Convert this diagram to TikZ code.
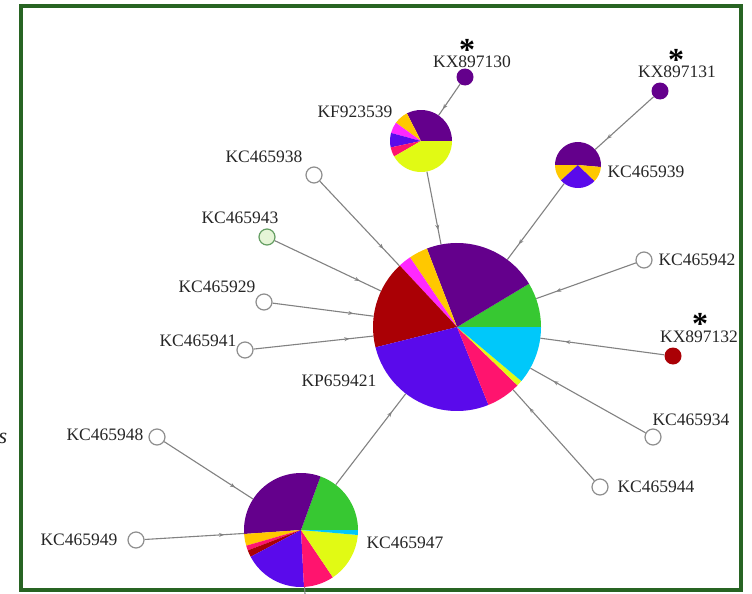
\documentclass[tikz,border=0pt]{standalone}
\usepackage{fontspec}
\setmainfont{Liberation Serif}
\usetikzlibrary{decorations.markings,arrows.meta}
\definecolor{hpurple}{RGB}{100,0,140}
\definecolor{hgreen}{RGB}{55,200,50}
\definecolor{hcyan}{RGB}{0,200,250}
\definecolor{hlime}{RGB}{225,250,20}
\definecolor{hpink}{RGB}{255,20,110}
\definecolor{hblue}{RGB}{90,10,235}
\definecolor{hred}{RGB}{170,0,5}
\definecolor{hmag}{RGB}{255,40,255}
\definecolor{hyellow}{RGB}{255,200,0}
\definecolor{framegreen}{RGB}{40,100,35}
\definecolor{linkgray}{RGB}{130,130,130}
\definecolor{lightleaf}{RGB}{230,245,215}
\newcommand\pieslice[5]{\fill[#5] (#1) -- ++(#3:#2) arc[start angle=#3, end angle=#4, radius=#2] -- cycle;}
\newcommand\bigast{\raisebox{-9pt}[14pt][0pt]{*}}
\begin{document}
\begin{tikzpicture}[x=1pt,y=-1pt,
  link/.style={draw=linkgray, line width=1.1pt, postaction={decorate},
    decoration={markings, mark=at position 0.8 with {\arrow{Stealth[length=5pt,width=4pt]}}}},
  leaf/.style={circle, draw=linkgray!90, fill=white, line width=1.2pt, minimum size=16pt, inner sep=0pt},
  dot/.style={circle, draw=none, minimum size=17pt, inner sep=0pt},
  pienode/.style={circle, draw=none, inner sep=0pt},
  lbl/.style={font=\fontsize{17.5}{20}\selectfont, text=black!85, inner sep=0pt},
  star/.style={font=\fontsize{32}{32}\selectfont\bfseries, inner sep=0pt, anchor=center}]
\useasboundingbox (0,0) rectangle (752,594);
\fill[white] (0,0) rectangle (752,594);
\draw[line width=4pt, framegreen] (21,6.5) rectangle (741,590);
\node[lbl, font=\fontsize{22}{22}\selectfont\itshape] (sleft) at (3,438) {s};
% pie nodes
\node[pienode, minimum size=168pt] (mp) at (457,327) {};
\node[pienode, minimum size=114pt] (bp) at (301,530) {};
\node[pienode, minimum size=62pt] (kf) at (421,141) {};
\node[pienode, minimum size=46pt] (k39) at (578,165) {};
% small coloured nodes
\node[dot, fill=hpurple] (kx130) at (465,77) {};
\node[dot, fill=hpurple] (kx131) at (660,91) {};
\node[dot, fill=hred] (kx132) at (673,356) {};
% leaves
\node[leaf] (k42) at (644,260) {};
\node[leaf] (k34) at (653,437) {};
\node[leaf] (k44) at (600,487) {};
\node[leaf] (k38) at (314,175) {};
\node[leaf, fill=lightleaf, draw=hgreen!40!linkgray] (k43) at (267,237) {};
\node[leaf] (k29) at (264,302) {};
\node[leaf] (k41) at (245,350) {};
\node[leaf] (k48) at (157,437) {};
\node[leaf] (k49) at (136,540) {};
\coordinate (botend) at (305,594);
% edges
\draw[link] (kx130) -- (kf);
\draw[link] (kf) -- (mp);
\draw[link] (kx131) -- (k39);
\draw[link] (k39) -- (mp);
\draw[link] (k38) -- (mp);
\draw[link] (k43) -- (mp);
\draw[link] (k29) -- (mp);
\draw[link] (k41) -- (mp);
\draw[link] (k42) -- (mp);
\draw[link] (kx132) -- (mp);
\draw[link] (k34) -- (mp);
\draw[link] (k44) -- (mp);
\draw[link] (bp) -- (mp);
\draw[link] (k48) -- (bp);
\draw[link] (k49) -- (bp);
\draw[draw=linkgray, line width=1.1pt] (bp) -- (botend);
% main pie
\pieslice{mp.center}{84pt}{0}{31}{hgreen}
\pieslice{mp.center}{84pt}{31}{111}{hpurple}
\pieslice{mp.center}{84pt}{111}{124}{hyellow}
\pieslice{mp.center}{84pt}{124}{133}{hmag}
\pieslice{mp.center}{84pt}{133}{194}{hred}
\pieslice{mp.center}{84pt}{194}{292}{hblue}
\pieslice{mp.center}{84pt}{292}{316}{hpink}
\pieslice{mp.center}{84pt}{316}{320}{hlime}
\pieslice{mp.center}{84pt}{320}{360}{hcyan}
% bottom pie
\pieslice{bp.center}{57pt}{0}{70}{hgreen}
\pieslice{bp.center}{57pt}{70}{184}{hpurple}
\pieslice{bp.center}{57pt}{184}{196}{hyellow}
\pieslice{bp.center}{57pt}{196}{201}{hpink}
\pieslice{bp.center}{57pt}{201}{208}{hred}
\pieslice{bp.center}{57pt}{208}{273}{hblue}
\pieslice{bp.center}{57pt}{273}{304}{hpink}
\pieslice{bp.center}{57pt}{304}{355}{hlime}
\pieslice{bp.center}{57pt}{355}{360}{hcyan}
% KF923539 pie
\pieslice{kf.center}{31pt}{0}{117}{hpurple}
\pieslice{kf.center}{31pt}{117}{144}{hyellow}
\pieslice{kf.center}{31pt}{144}{165}{hmag}
\pieslice{kf.center}{31pt}{165}{192}{hblue}
\pieslice{kf.center}{31pt}{192}{210}{hpink}
\pieslice{kf.center}{31pt}{210}{360}{hlime}
% KC465939 pie
\pieslice{k39.center}{23pt}{-5}{180}{hpurple}
\pieslice{k39.center}{23pt}{180}{222}{hyellow}
\pieslice{k39.center}{23pt}{222}{316}{hblue}
\pieslice{k39.center}{23pt}{316}{355}{hyellow}
% labels
\node[lbl] (lx130) at (472,62) {KX897130};
\node[lbl] (lkf) at (355,112) {KF923539};
\node[lbl] (lx131) at (677,72) {KX897131};
\node[lbl] (l39) at (646,172) {KC465939};
\node[lbl] (l38) at (264,157) {KC465938};
\node[lbl] (l43) at (240,218) {KC465943};
\node[lbl] (l29) at (217,287) {KC465929};
\node[lbl] (l41) at (198,341) {KC465941};
\node[lbl] (l42) at (697,260) {KC465942};
\node[lbl] (lx132) at (699,337) {KX897132};
\node[lbl] (l34) at (691,420) {KC465934};
\node[lbl] (l44) at (656,487) {KC465944};
\node[lbl] (lmp) at (339,381) {KP659421};
\node[lbl] (l48) at (105,435) {KC465948};
\node[lbl] (l49) at (79,540) {KC465949};
\node[lbl] (l47) at (405,543) {KC465947};
% asterisks
\node[star] (s130) at (467,45) {\bigast};
\node[star] (s131) at (676,55) {\bigast};
\node[star] (s132) at (700,318) {\bigast};
\end{tikzpicture}
\end{document}
